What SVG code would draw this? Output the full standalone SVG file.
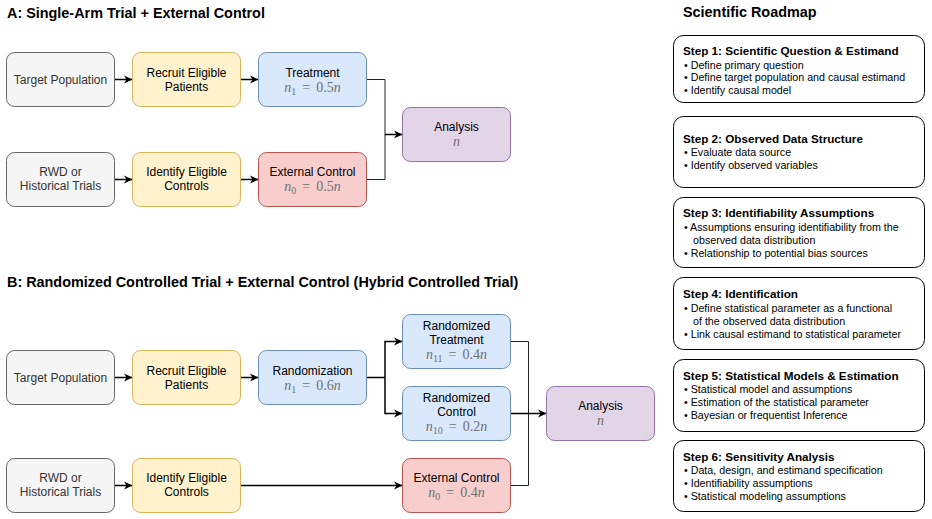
<svg xmlns="http://www.w3.org/2000/svg" width="932" height="519" viewBox="0 0 932 519">
<defs>
<marker id="arr" markerUnits="userSpaceOnUse" markerWidth="10" markerHeight="10" viewBox="0 0 10 10" refX="9" refY="5" orient="auto">
<path d="M0.5,1 L9,5 L0.5,9 L3,5 z" fill="#000"/>
</marker>
</defs>
<style>
.t{font-family:"Liberation Sans",Arial,sans-serif;font-size:12px;text-anchor:middle;fill:#000}
.tg{fill:#333}
.m{font-family:"Liberation Serif","Times New Roman",serif;font-size:14px;word-spacing:2.5px;text-anchor:middle;fill:#707070}
.mi{font-style:italic}
.sub{font-size:10px}
.title{font-family:"Liberation Sans",Arial,sans-serif;font-size:14.4px;font-weight:bold;fill:#000}
.gray{fill:#f5f5f5;stroke:#666666;stroke-width:1}
.yel{fill:#fff2cc;stroke:#d6b656;stroke-width:1}
.blu{fill:#dae8fc;stroke:#6c8ebf;stroke-width:1}
.red{fill:#f8cecc;stroke:#b85450;stroke-width:1}
.pur{fill:#e1d5e7;stroke:#9673a6;stroke-width:1}
.rm{fill:#fff;stroke:#000;stroke-width:1}
.h{font-family:"Liberation Sans",Arial,sans-serif;font-size:11.7px;font-weight:bold;fill:#000}
.b{font-family:"Liberation Sans",Arial,sans-serif;font-size:10.7px;fill:#000}
.a{fill:none;stroke:#000;stroke-width:1.5;marker-end:url(#arr)}
.l{fill:none;stroke:#222;stroke-width:1}
</style>

<text class="title" x="7" y="18">A: Single-Arm Trial + External Control</text>
<text class="title" x="7" y="287">B: Randomized Controlled Trial + External Control (Hybrid Controlled Trial)</text>
<text class="title" x="683" y="17">Scientific Roadmap</text>

<g id="connectors">
<path class="a" d="M114.5,79.5 H132.5"/>
<path class="a" d="M240.5,79.5 H258.5"/>
<path class="a" d="M114.5,179.5 H132.5"/>
<path class="a" d="M240.5,179.5 H258.5"/>
<path class="l" d="M366.5,79.5 H385 V179.5 H366.5"/>
<path class="a" d="M385,134.5 H402.5"/>
<path class="a" d="M114.5,377.5 H132.5"/>
<path class="a" d="M240.5,377.5 H258.5"/>
<path class="l" d="M366.5,377.5 H385" style="stroke:#000;stroke-width:1.5"/>
<path class="a" d="M385,377.5 V341.5 H402.5"/>
<path class="a" d="M385,377.5 V413.5 H402.5"/>
<path class="a" d="M114.5,485.5 H132.5"/>
<path class="a" d="M240.5,485.5 H402.5"/>
<path class="l" d="M510.5,341.5 H528.5 V485.5 H510.5"/>
<path class="a" d="M510.5,413.5 H546.5"/>
</g>

<g id="a-target">
<rect class="gray" x="6.5" y="52.5" width="108" height="54" rx="8"/>
<text class="t tg" x="60.5" y="83.8">Target Population</text>
</g>
<g id="a-recruit">
<rect class="yel" x="132.5" y="52.5" width="108" height="54" rx="8"/>
<text class="t" x="186.5" y="77">Recruit Eligible</text>
<text class="t" x="186.5" y="91">Patients</text>
</g>
<g id="a-treatment">
<rect class="blu" x="258.5" y="52.5" width="108" height="54" rx="8"/>
<text class="t" x="312.5" y="76.5">Treatment</text>
<text class="m" x="312.5" y="92"><tspan class="mi">n</tspan><tspan class="sub" dy="2.5">1</tspan><tspan dy="-2.5"> = 0.5</tspan><tspan class="mi">n</tspan></text>
</g>
<g id="a-rwd">
<rect class="gray" x="6.5" y="152.5" width="108" height="54" rx="8"/>
<text class="t tg" x="60.5" y="176">RWD or</text>
<text class="t tg" x="60.5" y="190">Historical Trials</text>
</g>
<g id="a-identify">
<rect class="yel" x="132.5" y="152.5" width="108" height="54" rx="8"/>
<text class="t" x="186.5" y="176">Identify Eligible</text>
<text class="t" x="186.5" y="190">Controls</text>
</g>
<g id="a-external">
<rect class="red" x="258.5" y="152.5" width="108" height="54" rx="8"/>
<text class="t" x="312.5" y="175.5">External Control</text>
<text class="m" x="312.5" y="191"><tspan class="mi">n</tspan><tspan class="sub" dy="2.5">0</tspan><tspan dy="-2.5"> = 0.5</tspan><tspan class="mi">n</tspan></text>
</g>
<g id="a-analysis">
<rect class="pur" x="402.5" y="107.5" width="108" height="54" rx="8"/>
<text class="t" x="456.5" y="130.5">Analysis</text>
<text class="m mi" x="456.5" y="146">n</text>
</g>

<g id="b-target">
<rect class="gray" x="6.5" y="350.5" width="108" height="54" rx="8"/>
<text class="t tg" x="60.5" y="381.8">Target Population</text>
</g>
<g id="b-recruit">
<rect class="yel" x="132.5" y="350.5" width="108" height="54" rx="8"/>
<text class="t" x="186.5" y="375">Recruit Eligible</text>
<text class="t" x="186.5" y="389">Patients</text>
</g>
<g id="b-randomization">
<rect class="blu" x="258.5" y="350.5" width="108" height="54" rx="8"/>
<text class="t" x="312.5" y="374.5">Randomization</text>
<text class="m" x="312.5" y="390"><tspan class="mi">n</tspan><tspan class="sub" dy="2.5">1</tspan><tspan dy="-2.5"> = 0.6</tspan><tspan class="mi">n</tspan></text>
</g>
<g id="b-rand-treatment">
<rect class="blu" x="402.5" y="314.5" width="108" height="54" rx="8"/>
<text class="t" x="456.5" y="330">Randomized</text>
<text class="t" x="456.5" y="344">Treatment</text>
<text class="m" x="456.5" y="359"><tspan class="mi">n</tspan><tspan class="sub" dy="2.5">11</tspan><tspan dy="-2.5"> = 0.4</tspan><tspan class="mi">n</tspan></text>
</g>
<g id="b-rand-control">
<rect class="blu" x="402.5" y="386.5" width="108" height="54" rx="8"/>
<text class="t" x="456.5" y="402">Randomized</text>
<text class="t" x="456.5" y="416">Control</text>
<text class="m" x="456.5" y="431"><tspan class="mi">n</tspan><tspan class="sub" dy="2.5">10</tspan><tspan dy="-2.5"> = 0.2</tspan><tspan class="mi">n</tspan></text>
</g>
<g id="b-rwd">
<rect class="gray" x="6.5" y="458.5" width="108" height="54" rx="8"/>
<text class="t tg" x="60.5" y="482">RWD or</text>
<text class="t tg" x="60.5" y="496">Historical Trials</text>
</g>
<g id="b-identify">
<rect class="yel" x="132.5" y="458.5" width="108" height="54" rx="8"/>
<text class="t" x="186.5" y="482">Identify Eligible</text>
<text class="t" x="186.5" y="496">Controls</text>
</g>
<g id="b-external">
<rect class="red" x="402.5" y="458.5" width="108" height="54" rx="8"/>
<text class="t" x="456.5" y="481.5">External Control</text>
<text class="m" x="456.5" y="497"><tspan class="mi">n</tspan><tspan class="sub" dy="2.5">0</tspan><tspan dy="-2.5"> = 0.4</tspan><tspan class="mi">n</tspan></text>
</g>
<g id="b-analysis">
<rect class="pur" x="546.5" y="386.5" width="108" height="54" rx="8"/>
<text class="t" x="600.5" y="409.5">Analysis</text>
<text class="m mi" x="600.5" y="425">n</text>
</g>

<g id="step1">
<rect class="rm" x="673.5" y="35.5" width="251" height="67" rx="10"/>
<text class="h" x="683" y="55">Step 1: Scientific Question &amp; Estimand</text>
<text class="b" x="684" y="68.5">• Define primary question</text>
<text class="b" x="684" y="81">• Define target population and causal estimand</text>
<text class="b" x="684" y="93.5">• Identify causal model</text>
</g>
<g id="step2">
<rect class="rm" x="673.5" y="116.5" width="251" height="71" rx="10"/>
<text class="h" x="683" y="143">Step 2: Observed Data Structure</text>
<text class="b" x="684" y="156">• Evaluate data source</text>
<text class="b" x="684" y="168.5">• Identify observed variables</text>
</g>
<g id="step3">
<rect class="rm" x="673.5" y="197.5" width="251" height="70" rx="10"/>
<text class="h" x="683" y="217">Step 3: Identifiability Assumptions</text>
<text class="b" x="684" y="230.5">• Assumptions ensuring identifiability from the</text>
<text class="b" x="693" y="243.5">observed data distribution</text>
<text class="b" x="684" y="256.5">• Relationship to potential bias sources</text>
</g>
<g id="step4">
<rect class="rm" x="673.5" y="277.5" width="251" height="72" rx="10"/>
<text class="h" x="683" y="298">Step 4: Identification</text>
<text class="b" x="684" y="311.5">• Define statistical parameter as a functional</text>
<text class="b" x="693" y="324.5">of the observed data distribution</text>
<text class="b" x="684" y="337.5">• Link causal estimand to statistical parameter</text>
</g>
<g id="step5">
<rect class="rm" x="673.5" y="359.5" width="251" height="72" rx="10"/>
<text class="h" x="683" y="380">Step 5: Statistical Models &amp; Estimation</text>
<text class="b" x="684" y="392.5">• Statistical model and assumptions</text>
<text class="b" x="684" y="405.5">• Estimation of the statistical parameter</text>
<text class="b" x="684" y="418.5">• Bayesian or frequentist Inference</text>
</g>
<g id="step6">
<rect class="rm" x="673.5" y="440.5" width="251" height="71" rx="10"/>
<text class="h" x="683" y="461">Step 6: Sensitivity Analysis</text>
<text class="b" x="684" y="473.5">• Data, design, and estimand specification</text>
<text class="b" x="684" y="486.5">• Identifiability assumptions</text>
<text class="b" x="684" y="499.5">• Statistical modeling assumptions</text>
</g>
</svg>
